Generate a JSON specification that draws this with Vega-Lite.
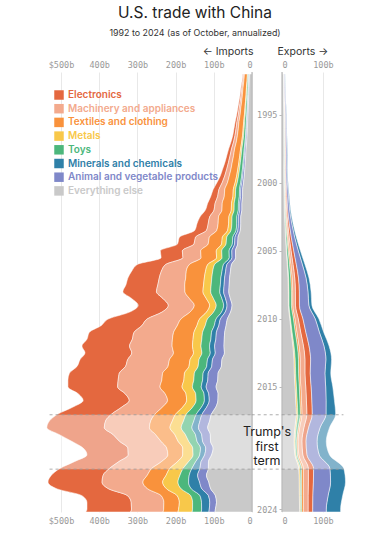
{
"$schema":"https://vega.github.io/schema/vega-lite/v6.json",
"padding":{"left":40,"top":5,"right":0,"bottom":0},
"title":{"text":"U.S. trade with China","subtitle":"1992 to 2024 (as of October, annualized)","anchor":"middle","font":"Inter","fontSize":15.5,"fontWeight":400,"color":"#222","subtitleFont":"Inter","subtitleFontSize":8.9,"subtitleColor":"#333","subtitlePadding":8,"offset":8},
"datasets":{
"imp":[
{"t":1992,"k":"E","v":1.9},{"t":1992,"k":"M","v":2.4},{"t":1992,"k":"T","v":7.7},{"t":1992,"k":"Me","v":1.2},{"t":1992,"k":"To","v":2.4},{"t":1992,"k":"Mi","v":0.7},{"t":1992,"k":"A","v":1.2},{"t":1992,"k":"O","v":6.5},
{"t":1992.5,"k":"E","v":2.1},{"t":1992.5,"k":"M","v":2.6},{"t":1992.5,"k":"T","v":8.3},{"t":1992.5,"k":"Me","v":1.3},{"t":1992.5,"k":"To","v":2.6},{"t":1992.5,"k":"Mi","v":0.8},{"t":1992.5,"k":"A","v":1.3},{"t":1992.5,"k":"O","v":7.0},
{"t":1993,"k":"E","v":2.6},{"t":1993,"k":"M","v":3.1},{"t":1993,"k":"T","v":8.9},{"t":1993,"k":"Me","v":1.5},{"t":1993,"k":"To","v":2.9},{"t":1993,"k":"Mi","v":0.9},{"t":1993,"k":"A","v":1.5},{"t":1993,"k":"O","v":7.7},
{"t":1993.5,"k":"E","v":2.8},{"t":1993.5,"k":"M","v":3.3},{"t":1993.5,"k":"T","v":9.5},{"t":1993.5,"k":"Me","v":1.6},{"t":1993.5,"k":"To","v":3.1},{"t":1993.5,"k":"Mi","v":0.9},{"t":1993.5,"k":"A","v":1.6},{"t":1993.5,"k":"O","v":8.3},
{"t":1994,"k":"E","v":3.3},{"t":1994,"k":"M","v":3.8},{"t":1994,"k":"T","v":10.0},{"t":1994,"k":"Me","v":1.8},{"t":1994,"k":"To","v":3.4},{"t":1994,"k":"Mi","v":1.0},{"t":1994,"k":"A","v":1.7},{"t":1994,"k":"O","v":9.0},
{"t":1994.5,"k":"E","v":3.6},{"t":1994.5,"k":"M","v":4.1},{"t":1994.5,"k":"T","v":10.9},{"t":1994.5,"k":"Me","v":1.9},{"t":1994.5,"k":"To","v":3.7},{"t":1994.5,"k":"Mi","v":1.1},{"t":1994.5,"k":"A","v":1.9},{"t":1994.5,"k":"O","v":9.8},
{"t":1995,"k":"E","v":4.2},{"t":1995,"k":"M","v":4.8},{"t":1995,"k":"T","v":11.3},{"t":1995,"k":"Me","v":2.2},{"t":1995,"k":"To","v":4.0},{"t":1995,"k":"Mi","v":1.2},{"t":1995,"k":"A","v":2.0},{"t":1995,"k":"O","v":10.4},
{"t":1995.5,"k":"E","v":4.7},{"t":1995.5,"k":"M","v":5.2},{"t":1995.5,"k":"T","v":12.4},{"t":1995.5,"k":"Me","v":2.4},{"t":1995.5,"k":"To","v":4.4},{"t":1995.5,"k":"Mi","v":1.3},{"t":1995.5,"k":"A","v":2.2},{"t":1995.5,"k":"O","v":11.4},
{"t":1996,"k":"E","v":5.4},{"t":1996,"k":"M","v":5.9},{"t":1996,"k":"T","v":12.7},{"t":1996,"k":"Me","v":2.6},{"t":1996,"k":"To","v":4.7},{"t":1996,"k":"Mi","v":1.4},{"t":1996,"k":"A","v":2.4},{"t":1996,"k":"O","v":12.0},
{"t":1996.5,"k":"E","v":5.8},{"t":1996.5,"k":"M","v":6.3},{"t":1996.5,"k":"T","v":13.5},{"t":1996.5,"k":"Me","v":2.8},{"t":1996.5,"k":"To","v":5.0},{"t":1996.5,"k":"Mi","v":1.5},{"t":1996.5,"k":"A","v":2.5},{"t":1996.5,"k":"O","v":12.8},
{"t":1997,"k":"E","v":6.8},{"t":1997,"k":"M","v":7.2},{"t":1997,"k":"T","v":14.1},{"t":1997,"k":"Me","v":3.1},{"t":1997,"k":"To","v":5.5},{"t":1997,"k":"Mi","v":1.7},{"t":1997,"k":"A","v":2.8},{"t":1997,"k":"O","v":13.9},
{"t":1997.5,"k":"E","v":7.6},{"t":1997.5,"k":"M","v":8.0},{"t":1997.5,"k":"T","v":15.7},{"t":1997.5,"k":"Me","v":3.4},{"t":1997.5,"k":"To","v":6.1},{"t":1997.5,"k":"Mi","v":1.8},{"t":1997.5,"k":"A","v":3.1},{"t":1997.5,"k":"O","v":15.4},
{"t":1998,"k":"E","v":8.7},{"t":1998,"k":"M","v":9.1},{"t":1998,"k":"T","v":16.2},{"t":1998,"k":"Me","v":3.8},{"t":1998,"k":"To","v":6.6},{"t":1998,"k":"Mi","v":2.0},{"t":1998,"k":"A","v":3.3},{"t":1998,"k":"O","v":16.4},
{"t":1998.5,"k":"E","v":9.4},{"t":1998.5,"k":"M","v":9.8},{"t":1998.5,"k":"T","v":17.4},{"t":1998.5,"k":"Me","v":4.0},{"t":1998.5,"k":"To","v":7.1},{"t":1998.5,"k":"Mi","v":2.1},{"t":1998.5,"k":"A","v":3.6},{"t":1998.5,"k":"O","v":17.6},
{"t":1999,"k":"E","v":10.9},{"t":1999,"k":"M","v":11.1},{"t":1999,"k":"T","v":17.9},{"t":1999,"k":"Me","v":4.5},{"t":1999,"k":"To","v":7.7},{"t":1999,"k":"Mi","v":2.3},{"t":1999,"k":"A","v":3.9},{"t":1999,"k":"O","v":18.8},
{"t":1999.5,"k":"E","v":11.7},{"t":1999.5,"k":"M","v":12.0},{"t":1999.5,"k":"T","v":19.3},{"t":1999.5,"k":"Me","v":4.9},{"t":1999.5,"k":"To","v":8.3},{"t":1999.5,"k":"Mi","v":2.5},{"t":1999.5,"k":"A","v":4.2},{"t":1999.5,"k":"O","v":20.3},
{"t":2000,"k":"E","v":13.8},{"t":2000,"k":"M","v":13.8},{"t":2000,"k":"T","v":20.2},{"t":2000,"k":"Me","v":5.5},{"t":2000,"k":"To","v":9.2},{"t":2000,"k":"Mi","v":2.8},{"t":2000,"k":"A","v":4.6},{"t":2000,"k":"O","v":22.1},
{"t":2000.5,"k":"E","v":15.3},{"t":2000.5,"k":"M","v":15.3},{"t":2000.5,"k":"T","v":22.4},{"t":2000.5,"k":"Me","v":6.1},{"t":2000.5,"k":"To","v":10.2},{"t":2000.5,"k":"Mi","v":3.1},{"t":2000.5,"k":"A","v":5.1},{"t":2000.5,"k":"O","v":24.5},
{"t":2001,"k":"E","v":18.1},{"t":2001,"k":"M","v":17.3},{"t":2001,"k":"T","v":22.7},{"t":2001,"k":"Me","v":6.5},{"t":2001,"k":"To","v":10.4},{"t":2001,"k":"Mi","v":3.2},{"t":2001,"k":"A","v":5.2},{"t":2001,"k":"O","v":24.6},
{"t":2001.5,"k":"E","v":19.5},{"t":2001.5,"k":"M","v":18.6},{"t":2001.5,"k":"T","v":24.4},{"t":2001.5,"k":"Me","v":7.0},{"t":2001.5,"k":"To","v":11.1},{"t":2001.5,"k":"Mi","v":3.5},{"t":2001.5,"k":"A","v":5.6},{"t":2001.5,"k":"O","v":26.4},
{"t":2002,"k":"E","v":22.7},{"t":2002,"k":"M","v":20.7},{"t":2002,"k":"T","v":24.4},{"t":2002,"k":"Me","v":7.3},{"t":2002,"k":"To","v":11.2},{"t":2002,"k":"Mi","v":3.7},{"t":2002,"k":"A","v":5.6},{"t":2002,"k":"O","v":26.4},
{"t":2002.5,"k":"E","v":25.3},{"t":2002.5,"k":"M","v":23.1},{"t":2002.5,"k":"T","v":27.2},{"t":2002.5,"k":"Me","v":8.2},{"t":2002.5,"k":"To","v":12.5},{"t":2002.5,"k":"Mi","v":4.1},{"t":2002.5,"k":"A","v":6.3},{"t":2002.5,"k":"O","v":29.4},
{"t":2003,"k":"E","v":29.4},{"t":2003,"k":"M","v":25.9},{"t":2003,"k":"T","v":27.4},{"t":2003,"k":"Me","v":8.6},{"t":2003,"k":"To","v":12.7},{"t":2003,"k":"Mi","v":4.3},{"t":2003,"k":"A","v":6.3},{"t":2003,"k":"O","v":29.4},
{"t":2003.5,"k":"E","v":30.6},{"t":2003.5,"k":"M","v":27.0},{"t":2003.5,"k":"T","v":28.5},{"t":2003.5,"k":"Me","v":9.0},{"t":2003.5,"k":"To","v":13.2},{"t":2003.5,"k":"Mi","v":4.5},{"t":2003.5,"k":"A","v":6.6},{"t":2003.5,"k":"O","v":30.6},
{"t":2004,"k":"E","v":42.2},{"t":2004,"k":"M","v":36.1},{"t":2004,"k":"T","v":34.2},{"t":2004,"k":"Me","v":11.4},{"t":2004,"k":"To","v":16.0},{"t":2004,"k":"Mi","v":5.7},{"t":2004,"k":"A","v":8.0},{"t":2004,"k":"O","v":36.5},
{"t":2004.5,"k":"E","v":43.3},{"t":2004.5,"k":"M","v":37.1},{"t":2004.5,"k":"T","v":35.1},{"t":2004.5,"k":"Me","v":11.7},{"t":2004.5,"k":"To","v":16.4},{"t":2004.5,"k":"Mi","v":5.9},{"t":2004.5,"k":"A","v":8.2},{"t":2004.5,"k":"O","v":37.4},
{"t":2005,"k":"E","v":57.6},{"t":2005,"k":"M","v":48.0},{"t":2005,"k":"T","v":40.8},{"t":2005,"k":"Me","v":14.4},{"t":2005,"k":"To","v":19.2},{"t":2005,"k":"Mi","v":7.2},{"t":2005,"k":"A","v":9.6},{"t":2005,"k":"O","v":43.2},
{"t":2005.5,"k":"E","v":57.1},{"t":2005.5,"k":"M","v":47.6},{"t":2005.5,"k":"T","v":40.5},{"t":2005.5,"k":"Me","v":14.3},{"t":2005.5,"k":"To","v":19.0},{"t":2005.5,"k":"Mi","v":7.1},{"t":2005.5,"k":"A","v":9.5},{"t":2005.5,"k":"O","v":42.8},
{"t":2006,"k":"E","v":74.1},{"t":2006,"k":"M","v":62.1},{"t":2006,"k":"T","v":48.0},{"t":2006,"k":"Me","v":18.0},{"t":2006,"k":"To","v":23.1},{"t":2006,"k":"Mi","v":9.0},{"t":2006,"k":"A","v":12.0},{"t":2006,"k":"O","v":53.7},
{"t":2006.5,"k":"E","v":77.8},{"t":2006.5,"k":"M","v":65.2},{"t":2006.5,"k":"T","v":50.4},{"t":2006.5,"k":"Me","v":18.9},{"t":2006.5,"k":"To","v":24.3},{"t":2006.5,"k":"Mi","v":9.5},{"t":2006.5,"k":"A","v":12.6},{"t":2006.5,"k":"O","v":56.4},
{"t":2007,"k":"E","v":82.2},{"t":2007,"k":"M","v":69.2},{"t":2007,"k":"T","v":48.8},{"t":2007,"k":"Me","v":19.5},{"t":2007,"k":"To","v":23.7},{"t":2007,"k":"Mi","v":9.8},{"t":2007,"k":"A","v":13.0},{"t":2007,"k":"O","v":58.8},
{"t":2007.5,"k":"E","v":83.5},{"t":2007.5,"k":"M","v":70.3},{"t":2007.5,"k":"T","v":49.5},{"t":2007.5,"k":"Me","v":19.8},{"t":2007.5,"k":"To","v":24.1},{"t":2007.5,"k":"Mi","v":9.9},{"t":2007.5,"k":"A","v":13.2},{"t":2007.5,"k":"O","v":59.7},
{"t":2008,"k":"E","v":87.9},{"t":2008,"k":"M","v":74.4},{"t":2008,"k":"T","v":47.3},{"t":2008,"k":"Me","v":20.3},{"t":2008,"k":"To","v":23.7},{"t":2008,"k":"Mi","v":10.1},{"t":2008,"k":"A","v":13.5},{"t":2008,"k":"O","v":60.8},
{"t":2008.5,"k":"E","v":81.9},{"t":2008.5,"k":"M","v":69.3},{"t":2008.5,"k":"T","v":44.1},{"t":2008.5,"k":"Me","v":18.9},{"t":2008.5,"k":"To","v":22.1},{"t":2008.5,"k":"Mi","v":9.5},{"t":2008.5,"k":"A","v":12.6},{"t":2008.5,"k":"O","v":56.7},
{"t":2009,"k":"E","v":79.0},{"t":2009,"k":"M","v":67.9},{"t":2009,"k":"T","v":40.2},{"t":2009,"k":"Me","v":17.3},{"t":2009,"k":"To","v":19.4},{"t":2009,"k":"Mi","v":8.9},{"t":2009,"k":"A","v":13.1},{"t":2009,"k":"O","v":52.2},
{"t":2009.5,"k":"E","v":84.8},{"t":2009.5,"k":"M","v":73.0},{"t":2009.5,"k":"T","v":43.2},{"t":2009.5,"k":"Me","v":18.6},{"t":2009.5,"k":"To","v":20.8},{"t":2009.5,"k":"Mi","v":9.6},{"t":2009.5,"k":"A","v":14.1},{"t":2009.5,"k":"O","v":56.0},
{"t":2010,"k":"E","v":101.3},{"t":2010,"k":"M","v":88.1},{"t":2010,"k":"T","v":48.8},{"t":2010,"k":"Me","v":20.6},{"t":2010,"k":"To","v":22.5},{"t":2010,"k":"Mi","v":11.3},{"t":2010,"k":"A","v":18.0},{"t":2010,"k":"O","v":64.5},
{"t":2010.5,"k":"E","v":106.7},{"t":2010.5,"k":"M","v":92.8},{"t":2010.5,"k":"T","v":51.4},{"t":2010.5,"k":"Me","v":21.7},{"t":2010.5,"k":"To","v":23.7},{"t":2010.5,"k":"Mi","v":11.9},{"t":2010.5,"k":"A","v":19.0},{"t":2010.5,"k":"O","v":67.9},
{"t":2011,"k":"E","v":117.2},{"t":2011,"k":"M","v":103.5},{"t":2011,"k":"T","v":53.3},{"t":2011,"k":"Me","v":22.6},{"t":2011,"k":"To","v":23.4},{"t":2011,"k":"Mi","v":12.8},{"t":2011,"k":"A","v":21.7},{"t":2011,"k":"O","v":71.6},
{"t":2011.5,"k":"E","v":118.8},{"t":2011.5,"k":"M","v":105.0},{"t":2011.5,"k":"T","v":54.0},{"t":2011.5,"k":"Me","v":22.9},{"t":2011.5,"k":"To","v":23.8},{"t":2011.5,"k":"Mi","v":13.0},{"t":2011.5,"k":"A","v":22.0},{"t":2011.5,"k":"O","v":72.6},
{"t":2012,"k":"E","v":124.6},{"t":2012,"k":"M","v":111.3},{"t":2012,"k":"T","v":53.4},{"t":2012,"k":"Me","v":22.3},{"t":2012,"k":"To","v":22.3},{"t":2012,"k":"Mi","v":13.4},{"t":2012,"k":"A","v":24.5},{"t":2012,"k":"O","v":73.4},
{"t":2012.5,"k":"E","v":122.4},{"t":2012.5,"k":"M","v":109.3},{"t":2012.5,"k":"T","v":52.4},{"t":2012.5,"k":"Me","v":21.9},{"t":2012.5,"k":"To","v":21.9},{"t":2012.5,"k":"Mi","v":13.1},{"t":2012.5,"k":"A","v":24.0},{"t":2012.5,"k":"O","v":72.1},
{"t":2013,"k":"E","v":124.7},{"t":2013,"k":"M","v":109.4},{"t":2013,"k":"T","v":54.0},{"t":2013,"k":"Me","v":23.4},{"t":2013,"k":"To","v":22.1},{"t":2013,"k":"Mi","v":13.1},{"t":2013,"k":"A","v":24.8},{"t":2013,"k":"O","v":78.8},
{"t":2013.5,"k":"E","v":126.9},{"t":2013.5,"k":"M","v":111.3},{"t":2013.5,"k":"T","v":55.0},{"t":2013.5,"k":"Me","v":23.8},{"t":2013.5,"k":"To","v":22.4},{"t":2013.5,"k":"Mi","v":13.3},{"t":2013.5,"k":"A","v":25.2},{"t":2013.5,"k":"O","v":80.2},
{"t":2014,"k":"E","v":130.5},{"t":2014,"k":"M","v":113.3},{"t":2014,"k":"T","v":57.4},{"t":2014,"k":"Me","v":25.8},{"t":2014,"k":"To","v":22.9},{"t":2014,"k":"Mi","v":13.4},{"t":2014,"k":"A","v":25.8},{"t":2014,"k":"O","v":88.9},
{"t":2014.5,"k":"E","v":131.6},{"t":2014.5,"k":"M","v":114.2},{"t":2014.5,"k":"T","v":57.8},{"t":2014.5,"k":"Me","v":26.0},{"t":2014.5,"k":"To","v":23.1},{"t":2014.5,"k":"Mi","v":13.5},{"t":2014.5,"k":"A","v":26.0},{"t":2014.5,"k":"O","v":89.7},
{"t":2015,"k":"E","v":130.1},{"t":2015,"k":"M","v":110.9},{"t":2015,"k":"T","v":57.8},{"t":2015,"k":"Me","v":27.0},{"t":2015,"k":"To","v":23.1},{"t":2015,"k":"Mi","v":13.0},{"t":2015,"k":"A","v":26.0},{"t":2015,"k":"O","v":94.0},
{"t":2015.5,"k":"E","v":122.9},{"t":2015.5,"k":"M","v":104.7},{"t":2015.5,"k":"T","v":54.6},{"t":2015.5,"k":"Me","v":25.5},{"t":2015.5,"k":"To","v":21.8},{"t":2015.5,"k":"Mi","v":12.3},{"t":2015.5,"k":"A","v":24.6},{"t":2015.5,"k":"O","v":88.7},
{"t":2016,"k":"E","v":120.7},{"t":2016,"k":"M","v":100.3},{"t":2016,"k":"T","v":49.9},{"t":2016,"k":"Me","v":24.8},{"t":2016,"k":"To","v":21.7},{"t":2016,"k":"Mi","v":12.8},{"t":2016,"k":"A","v":22.5},{"t":2016,"k":"O","v":89.3},
{"t":2016.5,"k":"E","v":128.3},{"t":2016.5,"k":"M","v":106.7},{"t":2016.5,"k":"T","v":53.1},{"t":2016.5,"k":"Me","v":26.3},{"t":2016.5,"k":"To","v":23.0},{"t":2016.5,"k":"Mi","v":13.6},{"t":2016.5,"k":"A","v":24.0},{"t":2016.5,"k":"O","v":94.9},
{"t":2017,"k":"E","v":140.7},{"t":2017,"k":"M","v":113.3},{"t":2017,"k":"T","v":54.4},{"t":2017,"k":"Me","v":27.9},{"t":2017,"k":"To","v":25.9},{"t":2017,"k":"Mi","v":15.2},{"t":2017,"k":"A","v":24.4},{"t":2017,"k":"O","v":106.2},
{"t":2017.5,"k":"E","v":146.8},{"t":2017.5,"k":"M","v":118.2},{"t":2017.5,"k":"T","v":56.7},{"t":2017.5,"k":"Me","v":29.2},{"t":2017.5,"k":"To","v":27.0},{"t":2017.5,"k":"Mi","v":15.9},{"t":2017.5,"k":"A","v":25.4},{"t":2017.5,"k":"O","v":110.8},
{"t":2018,"k":"E","v":150.4},{"t":2018,"k":"M","v":118.1},{"t":2018,"k":"T","v":53.7},{"t":2018,"k":"Me","v":29.5},{"t":2018,"k":"To","v":27.9},{"t":2018,"k":"Mi","v":17.2},{"t":2018,"k":"A","v":24.2},{"t":2018,"k":"O","v":116.0},
{"t":2018.5,"k":"E","v":141.4},{"t":2018.5,"k":"M","v":111.1},{"t":2018.5,"k":"T","v":50.5},{"t":2018.5,"k":"Me","v":27.8},{"t":2018.5,"k":"To","v":26.3},{"t":2018.5,"k":"Mi","v":16.2},{"t":2018.5,"k":"A","v":22.7},{"t":2018.5,"k":"O","v":109.1},
{"t":2019,"k":"E","v":125.1},{"t":2019,"k":"M","v":108.6},{"t":2019,"k":"T","v":44.8},{"t":2019,"k":"Me","v":27.8},{"t":2019,"k":"To","v":21.7},{"t":2019,"k":"Mi","v":14.6},{"t":2019,"k":"A","v":20.8},{"t":2019,"k":"O","v":108.6},
{"t":2019.5,"k":"E","v":117.1},{"t":2019.5,"k":"M","v":101.7},{"t":2019.5,"k":"T","v":42.0},{"t":2019.5,"k":"Me","v":26.1},{"t":2019.5,"k":"To","v":20.3},{"t":2019.5,"k":"Mi","v":13.7},{"t":2019.5,"k":"A","v":19.4},{"t":2019.5,"k":"O","v":101.7},
{"t":2020,"k":"E","v":108.0},{"t":2020,"k":"M","v":103.7},{"t":2020,"k":"T","v":38.9},{"t":2020,"k":"Me","v":27.2},{"t":2020,"k":"To","v":17.3},{"t":2020,"k":"Mi","v":13.0},{"t":2020,"k":"A","v":18.1},{"t":2020,"k":"O","v":105.8},
{"t":2020.5,"k":"E","v":116.3},{"t":2020.5,"k":"M","v":111.6},{"t":2020.5,"k":"T","v":41.9},{"t":2020.5,"k":"Me","v":29.3},{"t":2020.5,"k":"To","v":18.6},{"t":2020.5,"k":"Mi","v":14.0},{"t":2020.5,"k":"A","v":19.5},{"t":2020.5,"k":"O","v":113.9},
{"t":2021,"k":"E","v":129.8},{"t":2021,"k":"M","v":110.7},{"t":2021,"k":"T","v":47.3},{"t":2021,"k":"Me","v":34.7},{"t":2021,"k":"To","v":23.1},{"t":2021,"k":"Mi","v":21.1},{"t":2021,"k":"A","v":22.1},{"t":2021,"k":"O","v":114.2},
{"t":2021.5,"k":"E","v":135.5},{"t":2021.5,"k":"M","v":115.5},{"t":2021.5,"k":"T","v":49.4},{"t":2021.5,"k":"Me","v":36.2},{"t":2021.5,"k":"To","v":24.2},{"t":2021.5,"k":"Mi","v":22.1},{"t":2021.5,"k":"A","v":23.1},{"t":2021.5,"k":"O","v":119.2},
{"t":2022,"k":"E","v":141.5},{"t":2022,"k":"M","v":106.8},{"t":2022,"k":"T","v":51.8},{"t":2022,"k":"Me","v":40.1},{"t":2022,"k":"To","v":27.8},{"t":2022,"k":"Mi","v":28.8},{"t":2022,"k":"A","v":24.0},{"t":2022,"k":"O","v":113.2},
{"t":2022.5,"k":"E","v":135.2},{"t":2022.5,"k":"M","v":102.0},{"t":2022.5,"k":"T","v":49.5},{"t":2022.5,"k":"Me","v":38.3},{"t":2022.5,"k":"To","v":26.5},{"t":2022.5,"k":"Mi","v":27.5},{"t":2022.5,"k":"A","v":23.0},{"t":2022.5,"k":"O","v":108.1},
{"t":2023,"k":"E","v":119.3},{"t":2023,"k":"M","v":88.1},{"t":2023,"k":"T","v":41.8},{"t":2023,"k":"Me","v":35.6},{"t":2023,"k":"To","v":24.0},{"t":2023,"k":"Mi","v":22.3},{"t":2023,"k":"A","v":18.2},{"t":2023,"k":"O","v":95.7},
{"t":2023.5,"k":"E","v":115.8},{"t":2023.5,"k":"M","v":85.5},{"t":2023.5,"k":"T","v":40.6},{"t":2023.5,"k":"Me","v":34.6},{"t":2023.5,"k":"To","v":23.3},{"t":2023.5,"k":"Mi","v":21.6},{"t":2023.5,"k":"A","v":17.7},{"t":2023.5,"k":"O","v":92.9},
{"t":2024,"k":"E","v":116.6},{"t":2024,"k":"M","v":84.2},{"t":2024,"k":"T","v":38.9},{"t":2024,"k":"Me","v":36.7},{"t":2024,"k":"To","v":23.8},{"t":2024,"k":"Mi","v":19.9},{"t":2024,"k":"A","v":16.0},{"t":2024,"k":"O","v":95.9},
{"t":2024.2,"k":"E","v":117.5},{"t":2024.2,"k":"M","v":84.8},{"t":2024.2,"k":"T","v":39.2},{"t":2024.2,"k":"Me","v":37.0},{"t":2024.2,"k":"To","v":23.9},{"t":2024.2,"k":"Mi","v":20.0},{"t":2024.2,"k":"A","v":16.1},{"t":2024.2,"k":"O","v":96.6}
],
"exp":[
{"t":1992,"k":"E","v":0.9},{"t":1992,"k":"M","v":0.9},{"t":1992,"k":"T","v":0.45},{"t":1992,"k":"Me","v":0.3},{"t":1992,"k":"To","v":0.2},{"t":1992,"k":"Mi","v":0.75},{"t":1992,"k":"A","v":1.0},{"t":1992,"k":"O","v":3.0},
{"t":1993,"k":"E","v":1.04},{"t":1993,"k":"M","v":1.02},{"t":1993,"k":"T","v":0.51},{"t":1993,"k":"Me","v":0.33},{"t":1993,"k":"To","v":0.28},{"t":1993,"k":"Mi","v":0.87},{"t":1993,"k":"A","v":1.16},{"t":1993,"k":"O","v":3.3},
{"t":1994,"k":"E","v":1.19},{"t":1994,"k":"M","v":1.14},{"t":1994,"k":"T","v":0.57},{"t":1994,"k":"Me","v":0.36},{"t":1994,"k":"To","v":0.33},{"t":1994,"k":"Mi","v":1.0},{"t":1994,"k":"A","v":1.35},{"t":1994,"k":"O","v":3.56},
{"t":1995,"k":"E","v":1.47},{"t":1995,"k":"M","v":1.38},{"t":1995,"k":"T","v":0.69},{"t":1995,"k":"Me","v":0.41},{"t":1995,"k":"To","v":0.43},{"t":1995,"k":"Mi","v":1.24},{"t":1995,"k":"A","v":1.71},{"t":1995,"k":"O","v":4.17},
{"t":1996,"k":"E","v":1.56},{"t":1996,"k":"M","v":1.44},{"t":1996,"k":"T","v":0.72},{"t":1996,"k":"Me","v":0.42},{"t":1996,"k":"To","v":0.48},{"t":1996,"k":"Mi","v":1.32},{"t":1996,"k":"A","v":1.86},{"t":1996,"k":"O","v":4.2},
{"t":1997,"k":"E","v":1.7},{"t":1997,"k":"M","v":1.54},{"t":1997,"k":"T","v":0.77},{"t":1997,"k":"Me","v":0.44},{"t":1997,"k":"To","v":0.54},{"t":1997,"k":"Mi","v":1.44},{"t":1997,"k":"A","v":2.06},{"t":1997,"k":"O","v":4.32},
{"t":1998,"k":"E","v":1.89},{"t":1998,"k":"M","v":1.68},{"t":1998,"k":"T","v":0.84},{"t":1998,"k":"Me","v":0.46},{"t":1998,"k":"To","v":0.63},{"t":1998,"k":"Mi","v":1.61},{"t":1998,"k":"A","v":2.35},{"t":1998,"k":"O","v":4.55},
{"t":1999,"k":"E","v":1.86},{"t":1999,"k":"M","v":1.62},{"t":1999,"k":"T","v":0.81},{"t":1999,"k":"Me","v":0.42},{"t":1999,"k":"To","v":0.64},{"t":1999,"k":"Mi","v":1.59},{"t":1999,"k":"A","v":2.35},{"t":1999,"k":"O","v":4.22},
{"t":2000,"k":"E","v":2.1},{"t":2000,"k":"M","v":1.8},{"t":2000,"k":"T","v":0.9},{"t":2000,"k":"Me","v":0.45},{"t":2000,"k":"To","v":0.75},{"t":2000,"k":"Mi","v":1.8},{"t":2000,"k":"A","v":2.7},{"t":2000,"k":"O","v":4.5},
{"t":2001,"k":"E","v":2.56},{"t":2001,"k":"M","v":2.09},{"t":2001,"k":"T","v":1.08},{"t":2001,"k":"Me","v":0.54},{"t":2001,"k":"To","v":0.97},{"t":2001,"k":"Mi","v":2.16},{"t":2001,"k":"A","v":3.46},{"t":2001,"k":"O","v":5.15},
{"t":2002,"k":"E","v":3.02},{"t":2002,"k":"M","v":2.35},{"t":2002,"k":"T","v":1.26},{"t":2002,"k":"Me","v":0.63},{"t":2002,"k":"To","v":1.22},{"t":2002,"k":"Mi","v":2.52},{"t":2002,"k":"A","v":4.28},{"t":2002,"k":"O","v":5.71},
{"t":2003,"k":"E","v":3.94},{"t":2003,"k":"M","v":2.92},{"t":2003,"k":"T","v":1.62},{"t":2003,"k":"Me","v":0.81},{"t":2003,"k":"To","v":1.67},{"t":2003,"k":"Mi","v":3.24},{"t":2003,"k":"A","v":5.83},{"t":2003,"k":"O","v":6.97},
{"t":2004,"k":"E","v":5.18},{"t":2004,"k":"M","v":3.64},{"t":2004,"k":"T","v":2.1},{"t":2004,"k":"Me","v":1.05},{"t":2004,"k":"To","v":2.31},{"t":2004,"k":"Mi","v":4.2},{"t":2004,"k":"A","v":7.98},{"t":2004,"k":"O","v":8.54},
{"t":2005,"k":"E","v":6.75},{"t":2005,"k":"M","v":4.5},{"t":2005,"k":"T","v":2.7},{"t":2005,"k":"Me","v":1.35},{"t":2005,"k":"To","v":3.15},{"t":2005,"k":"Mi","v":5.4},{"t":2005,"k":"A","v":10.8},{"t":2005,"k":"O","v":10.35},
{"t":2006,"k":"E","v":8.18},{"t":2006,"k":"M","v":5.49},{"t":2006,"k":"T","v":3.14},{"t":2006,"k":"Me","v":1.57},{"t":2006,"k":"To","v":4.03},{"t":2006,"k":"Mi","v":6.5},{"t":2006,"k":"A","v":14.45},{"t":2006,"k":"O","v":12.66},
{"t":2007,"k":"E","v":9.37},{"t":2007,"k":"M","v":6.34},{"t":2007,"k":"T","v":3.43},{"t":2007,"k":"Me","v":1.72},{"t":2007,"k":"To","v":4.88},{"t":2007,"k":"Mi","v":7.39},{"t":2007,"k":"A","v":18.22},{"t":2007,"k":"O","v":14.65},
{"t":2008,"k":"E","v":9.8},{"t":2008,"k":"M","v":6.67},{"t":2008,"k":"T","v":3.41},{"t":2008,"k":"Me","v":1.7},{"t":2008,"k":"To","v":5.4},{"t":2008,"k":"Mi","v":7.67},{"t":2008,"k":"A","v":20.87},{"t":2008,"k":"O","v":15.48},
{"t":2009,"k":"E","v":9.78},{"t":2009,"k":"M","v":6.72},{"t":2009,"k":"T","v":3.21},{"t":2009,"k":"Me","v":1.61},{"t":2009,"k":"To","v":5.69},{"t":2009,"k":"Mi","v":7.59},{"t":2009,"k":"A","v":22.78},{"t":2009,"k":"O","v":15.62},
{"t":2010,"k":"E","v":11.7},{"t":2010,"k":"M","v":8.1},{"t":2010,"k":"T","v":3.6},{"t":2010,"k":"Me","v":1.8},{"t":2010,"k":"To","v":7.2},{"t":2010,"k":"Mi","v":9.0},{"t":2010,"k":"A","v":29.7},{"t":2010,"k":"O","v":18.9},
{"t":2011,"k":"E","v":12.75},{"t":2011,"k":"M","v":9.44},{"t":2011,"k":"T","v":3.83},{"t":2011,"k":"Me","v":2.3},{"t":2011,"k":"To","v":7.65},{"t":2011,"k":"Mi","v":10.71},{"t":2011,"k":"A","v":32.9},{"t":2011,"k":"O","v":22.44},
{"t":2012,"k":"E","v":13.8},{"t":2012,"k":"M","v":10.93},{"t":2012,"k":"T","v":4.03},{"t":2012,"k":"Me","v":2.88},{"t":2012,"k":"To","v":8.05},{"t":2012,"k":"Mi","v":12.65},{"t":2012,"k":"A","v":36.23},{"t":2012,"k":"O","v":26.45},
{"t":2013,"k":"E","v":13.92},{"t":2013,"k":"M","v":11.8},{"t":2013,"k":"T","v":3.93},{"t":2013,"k":"Me","v":3.33},{"t":2013,"k":"To","v":7.87},{"t":2013,"k":"Mi","v":13.92},{"t":2013,"k":"A","v":37.21},{"t":2013,"k":"O","v":29.04},
{"t":2014,"k":"E","v":13.09},{"t":2014,"k":"M","v":11.9},{"t":2014,"k":"T","v":3.57},{"t":2014,"k":"Me","v":3.57},{"t":2014,"k":"To","v":7.14},{"t":2014,"k":"Mi","v":14.28},{"t":2014,"k":"A","v":35.7},{"t":2014,"k":"O","v":29.75},
{"t":2015,"k":"E","v":13.33},{"t":2015,"k":"M","v":12.09},{"t":2015,"k":"T","v":3.72},{"t":2015,"k":"Me","v":3.72},{"t":2015,"k":"To","v":6.82},{"t":2015,"k":"Mi","v":17.36},{"t":2015,"k":"A","v":35.34},{"t":2015,"k":"O","v":31.62},
{"t":2016,"k":"E","v":13.44},{"t":2016,"k":"M","v":12.16},{"t":2016,"k":"T","v":3.84},{"t":2016,"k":"Me","v":3.84},{"t":2016,"k":"To","v":6.4},{"t":2016,"k":"Mi","v":20.48},{"t":2016,"k":"A","v":34.56},{"t":2016,"k":"O","v":33.28},
{"t":2017,"k":"E","v":13.43},{"t":2017,"k":"M","v":12.12},{"t":2017,"k":"T","v":3.93},{"t":2017,"k":"Me","v":3.93},{"t":2017,"k":"To","v":5.9},{"t":2017,"k":"Mi","v":23.58},{"t":2017,"k":"A","v":33.41},{"t":2017,"k":"O","v":34.72},
{"t":2018,"k":"E","v":11.6},{"t":2018,"k":"M","v":10.44},{"t":2018,"k":"T","v":3.48},{"t":2018,"k":"Me","v":3.48},{"t":2018,"k":"To","v":4.64},{"t":2018,"k":"Mi","v":23.2},{"t":2018,"k":"A","v":27.84},{"t":2018,"k":"O","v":31.32},
{"t":2019,"k":"E","v":10.26},{"t":2019,"k":"M","v":9.45},{"t":2019,"k":"T","v":3.24},{"t":2019,"k":"Me","v":2.97},{"t":2019,"k":"To","v":3.67},{"t":2019,"k":"Mi","v":22.57},{"t":2019,"k":"A","v":26.73},{"t":2019,"k":"O","v":29.16},
{"t":2020,"k":"E","v":10.44},{"t":2020,"k":"M","v":9.86},{"t":2020,"k":"T","v":3.48},{"t":2020,"k":"Me","v":2.9},{"t":2020,"k":"To","v":3.19},{"t":2020,"k":"Mi","v":25.23},{"t":2020,"k":"A","v":29.58},{"t":2020,"k":"O","v":31.32},
{"t":2021,"k":"E","v":12.84},{"t":2021,"k":"M","v":12.46},{"t":2021,"k":"T","v":4.53},{"t":2021,"k":"Me","v":3.4},{"t":2021,"k":"To","v":3.17},{"t":2021,"k":"Mi","v":34.13},{"t":2021,"k":"A","v":39.64},{"t":2021,"k":"O","v":40.77},
{"t":2022,"k":"E","v":12.4},{"t":2022,"k":"M","v":12.4},{"t":2022,"k":"T","v":4.65},{"t":2022,"k":"Me","v":3.1},{"t":2022,"k":"To","v":2.33},{"t":2022,"k":"Mi","v":36.43},{"t":2022,"k":"A","v":41.85},{"t":2022,"k":"O","v":41.85},
{"t":2023,"k":"E","v":11.84},{"t":2023,"k":"M","v":11.84},{"t":2023,"k":"T","v":4.44},{"t":2023,"k":"Me","v":2.96},{"t":2023,"k":"To","v":2.22},{"t":2023,"k":"Mi","v":35.52},{"t":2023,"k":"A","v":37.0},{"t":2023,"k":"O","v":42.18},
{"t":2024,"k":"E","v":11.44},{"t":2024,"k":"M","v":11.44},{"t":2024,"k":"T","v":4.29},{"t":2024,"k":"Me","v":2.86},{"t":2024,"k":"To","v":2.15},{"t":2024,"k":"Mi","v":35.04},{"t":2024,"k":"A","v":32.89},{"t":2024,"k":"O","v":42.9},
{"t":2024.2,"k":"E","v":11.44},{"t":2024.2,"k":"M","v":11.44},{"t":2024.2,"k":"T","v":4.29},{"t":2024.2,"k":"Me","v":2.86},{"t":2024.2,"k":"To","v":2.15},{"t":2024.2,"k":"Mi","v":35.04},{"t":2024.2,"k":"A","v":32.89},{"t":2024.2,"k":"O","v":42.9}
]
},
"hconcat":[
{
"width":212,"height":440,
"resolve":{"axis":{"x":"independent"}},
"layer":[
{"data":{"name":"imp"},
"transform":[{"calculate":"indexof(['O','A','Mi','To','Me','T','M','E'], datum.k)","as":"r"}],
"mark":{"type":"area","orient":"horizontal","interpolate":"monotone","stroke":"white","strokeWidth":0.5},
"encoding":{
"y":{"field":"t","type":"quantitative","scale":{"domain":[1991.85,2024.2],"reverse":true,"nice":false,"zero":false},"axis":null},
"x":{"field":"v","type":"quantitative","stack":"zero","scale":{"domain":[0,555],"reverse":true,"nice":false},
"axis":{"orient":"bottom","values":[0,100,200,300,400,500],"labelExpr":"datum.value == 0 ? '0' : (datum.value == 500 ? '$500b' : datum.value + 'b')","grid":true,"title":null,"labelPadding":4}},
"color":{"field":"k","type":"nominal","scale":{"domain":["E","M","T","Me","To","Mi","A","O"],"range":["#e4683f","#f3aa8d","#f9923c","#f8c84a","#4cb77c","#2f80a8","#7f88c9","#c9c9c9"]},
"legend":{"orient":"none","legendX":14,"legendY":18,"title":null,"symbolType":"square","symbolSize":90,"symbolStrokeWidth":0,"symbolOpacity":1,"labelFont":"Inter","labelFontSize":10,"labelFontWeight":600,"rowPadding":3.7,"labelOffset":4,
"labelColor":{"expr":"scale('color', datum.value)"},
"labelExpr":"{'E':'Electronics','M':'Machinery and appliances','T':'Textiles and clothing','Me':'Metals','To':'Toys','Mi':'Minerals and chemicals','A':'Animal and vegetable products','O':'Everything else'}[datum.label]"}},
"order":{"field":"r","type":"quantitative"}
}},
{"data":{"values":[{"s":2017.05,"e":2021.05}]},
"mark":{"type":"rect","color":"white","opacity":0.4},
"encoding":{"y":{"field":"s","type":"quantitative","axis":null},"y2":{"field":"e"}}},
{"data":{"values":[{"v":0}]},
"mark":{"type":"rule","color":"#aaa","strokeWidth":1},
"encoding":{"x":{"field":"v","type":"quantitative","axis":{"orient":"top","values":[0,100,200,300,400,500],"labelExpr":"datum.value == 0 ? '0' : (datum.value == 500 ? '$500b' : datum.value + 'b')","grid":false,"title":"← Imports","titleX":213,"titleAlign":"right","labelDx":5,"labelPadding":3,"titlePadding":4}}}},
{"data":{"values":[{"t":2017.05},{"t":2021.05}]},
"mark":{"type":"rule","color":"#999","strokeDash":[3,3],"strokeWidth":0.8},
"encoding":{"y":{"field":"t","type":"quantitative","axis":null},"x":{"datum":530,"axis":null},"x2":{"datum":0}}}
]
},
{
"width":68,"height":440,
"resolve":{"axis":{"x":"independent"}},
"layer":[
{"data":{"name":"exp"},
"transform":[{"calculate":"indexof(['O','Me','To','T','M','E','A','Mi'], datum.k)","as":"r"}],
"mark":{"type":"area","orient":"horizontal","interpolate":"monotone","stroke":"white","strokeWidth":0.5},
"encoding":{
"y":{"field":"t","type":"quantitative","scale":{"domain":[1991.85,2024.2],"reverse":true,"nice":false,"zero":false},
"axis":{"orient":"left","values":[1995,2000,2005,2010,2015,2024],"format":"d","ticks":true,"tickSize":3,"tickColor":"#bbb","labelPadding":2,"grid":false,"title":null}},
"x":{"field":"v","type":"quantitative","stack":"zero","scale":{"domain":[0,166],"nice":false},
"axis":{"orient":"bottom","values":[0,100],"labelExpr":"datum.value == 0 ? '0' : datum.value + 'b'","grid":true,"title":null,"labelPadding":4}},
"color":{"field":"k","type":"nominal","scale":{"domain":["E","M","T","Me","To","Mi","A","O"],"range":["#e4683f","#f3aa8d","#f9923c","#f8c84a","#4cb77c","#2f80a8","#7f88c9","#c9c9c9"]}},
"order":{"field":"r","type":"quantitative"}
}},
{"data":{"values":[{"s":2017.05,"e":2021.05}]},
"mark":{"type":"rect","color":"white","opacity":0.4},
"encoding":{"y":{"field":"s","type":"quantitative"},"y2":{"field":"e"}}},
{"data":{"values":[{"v":0}]},
"mark":{"type":"rule","color":"#aaa","strokeWidth":1},
"encoding":{"x":{"field":"v","type":"quantitative","axis":{"orient":"top","values":[0,100],"labelExpr":"datum.value == 0 ? '0' : datum.value + 'b'","grid":false,"title":"Exports →","titleX":-5,"titleAlign":"left","labelDx":2,"labelPadding":3,"titlePadding":4}}}},
{"data":{"values":[{"t":2017.05},{"t":2021.05}]},
"mark":{"type":"rule","color":"#999","strokeDash":[3,3],"strokeWidth":0.8},
"encoding":{"y":{"field":"t","type":"quantitative"},"x":{"datum":-74,"axis":null},"x2":{"datum":150}}},
{"data":{"values":[{"t":2019.13,"label":"Trump's\nfirst\nterm"}]},
"mark":{"type":"text","lineBreak":"\n","align":"center","baseline":"middle","dx":-15,"dy":-11,"fontSize":12.5,"lineHeight":14.5,"font":"Inter","color":"#222"},
"encoding":{"y":{"field":"t","type":"quantitative"},"x":{"datum":0,"axis":null},"text":{"field":"label"}}}
]
}
],
"spacing":30,
"bounds":"flush",
"config":{
"view":{"stroke":null},
"font":"Inter",
"axis":{"labelFont":"DejaVu Sans Mono","labelFontSize":8.5,"labelColor":"#999","domain":false,"ticks":false,"gridColor":"#e8e8e8","titleFont":"Inter","titleFontWeight":"normal","titleFontSize":10.5,"titleColor":"#333"}
}
}
